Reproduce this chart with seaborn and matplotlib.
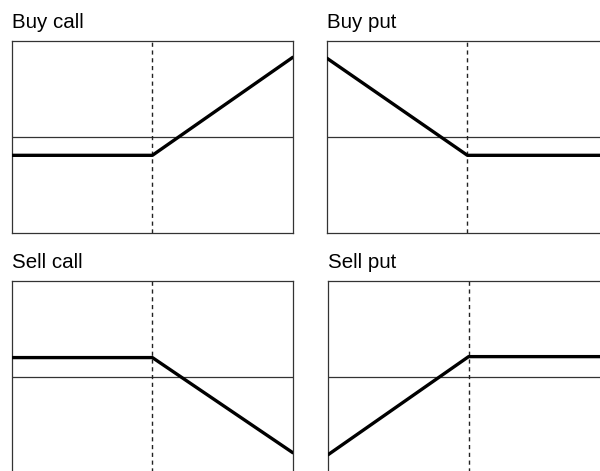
import numpy as np
import pandas as pd
import matplotlib
matplotlib.use("Agg")
import matplotlib.pyplot as plt
import seaborn as sns

# payoff diagrams: price at expiry vs profit, strike in the middle
price = [0, 50, 100]
strike = 50
buy_call = [-1.9, -1.9, 8.3]
buy_put = [8.2, -1.9, -1.9]
sell_call = [2.0, 2.0, -7.9]
sell_put = [-8.1, 2.1, 2.1]

titles = ["Buy call", "Buy put", "Sell call", "Sell put"]
payoffs = [buy_call, buy_put, sell_call, sell_put]

sns.set_style("white")
plt.rcParams['font.family'] = ['Liberation Sans', 'DejaVu Sans']

fig = plt.figure(figsize=(6, 4.71), dpi=100)

# axes boxes in figure fractions (right and bottom panels run off the edge)
positions = [
    [0.020, 0.505, 0.468, 0.408],
    [0.545, 0.505, 0.468, 0.408],
    [0.020, -0.004, 0.468, 0.408],
    [0.547, -0.004, 0.468, 0.408],
]

for pos, title, pay in zip(positions, titles, payoffs):
    ax = fig.add_axes(pos)
    df = pd.DataFrame({"price": price, "profit": pay})
    ax.axhline(0, color="#333333", lw=0.9, zorder=1)
    ax.axvline(strike, color="#222222", lw=1.0, ls=(0, (3, 2.6)), zorder=1)
    sns.lineplot(data=df, x="price", y="profit", ax=ax, color="black",
                 lw=2.4, zorder=3, sort=False)
    ax.set_xlim(0, 100)
    ax.set_ylim(-10, 10)
    ax.set_xticks([])
    ax.set_yticks([])
    ax.set_xlabel("")
    ax.set_ylabel("")
    for s in ax.spines.values():
        s.set_color("#333333")
        s.set_linewidth(0.9)
    ax.set_title(title, loc="left", fontsize=14.8, pad=9, color="black")

fig.savefig("out.png", dpi=100)
